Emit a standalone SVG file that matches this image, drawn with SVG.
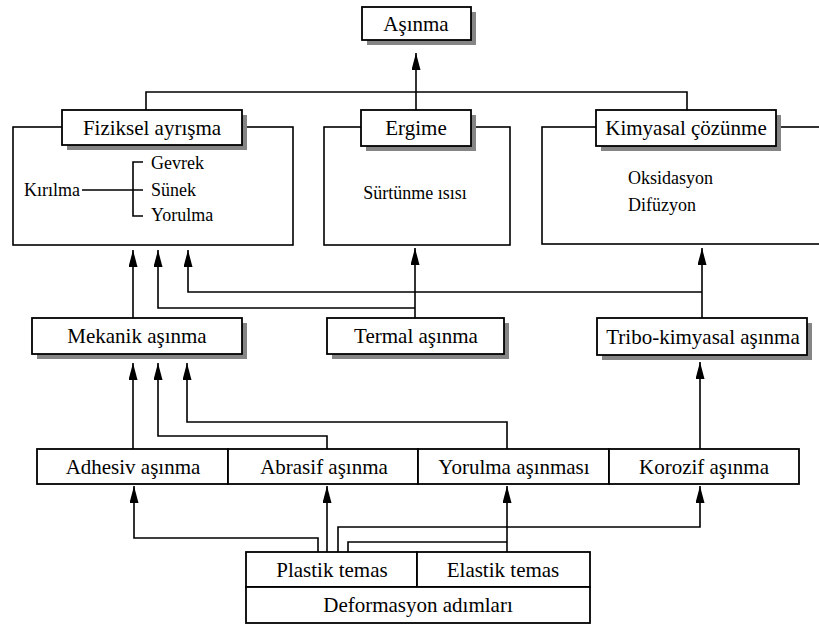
<svg xmlns="http://www.w3.org/2000/svg" width="819" height="630" viewBox="0 0 819 630">
<defs>
<style>
.ln{fill:none;stroke:#000;stroke-width:1.6}
.bx{fill:#fff;stroke:#000;stroke-width:1.8}
.fr{fill:#fff;stroke:#000;stroke-width:1.6}
.sh{fill:#858585}
.t{font-size:21px;fill:#000;text-anchor:middle}
.s{font-size:18px;fill:#000}
.a{marker-end:url(#ah)}
</style>
<marker id="ah" markerUnits="userSpaceOnUse" markerWidth="17" markerHeight="9" refX="17" refY="4.5" orient="auto">
<path d="M0,0 L17,4.5 L0,9 Z" fill="#000"/>
</marker>
</defs>
<rect width="819" height="630" fill="#fff"/>

<g id="frame-fiziksel"><rect class="fr" x="13" y="127" width="280" height="118"/></g>
<g id="frame-ergime"><rect class="fr" x="324" y="127" width="186" height="118"/></g>
<g id="frame-kimyasal"><rect class="fr" x="542" y="127" width="290" height="117"/></g>

<g id="connectors">
<path class="ln a" d="M416,110 V53"/>
<path class="ln" d="M146,110 V92 H687 V110"/>
<path class="ln a" d="M133,318 V250"/>
<path class="ln a" d="M415,318 V248"/>
<path class="ln a" d="M415,308 H158 V250"/>
<path class="ln a" d="M702,318 V248"/>
<path class="ln a" d="M702,292 H188 V250"/>
<path class="ln a" d="M133,449 V363"/>
<path class="ln a" d="M327,449 V436 H158 V363"/>
<path class="ln a" d="M507,449 V422 H187 V363"/>
<path class="ln a" d="M700,449 V362"/>
<path class="ln a" d="M318,552 V538 H134 V486"/>
<path class="ln a" d="M327,552 V486"/>
<path class="ln a" d="M507,552 V486"/>
<path class="ln" d="M348,552 V542 H507"/>
<path class="ln a" d="M338,552 V527 H700 V486"/>
</g>

<g font-family="'Liberation Serif', Tinos, 'Times New Roman', 'DejaVu Serif', serif">
<g id="asinma">
<rect class="sh" x="367" y="12" width="109" height="33"/>
<rect class="bx" x="362" y="7" width="109" height="33"/>
<text class="t" x="416" y="31">Aşınma</text>
</g>

<g id="fiziksel-ayrisma">
<rect class="sh" x="67" y="115" width="180" height="35"/>
<rect class="bx" x="62" y="110" width="180" height="35"/>
<text class="t" x="152" y="135">Fiziksel ayrışma</text>
<text class="s" x="24" y="196">Kırılma</text>
<path class="ln" d="M82,190 H143 M143,162 H133 V216 H143"/>
<text class="s" x="151" y="169">Gevrek</text>
<text class="s" x="151" y="196">Sünek</text>
<text class="s" x="151" y="221">Yorulma</text>
</g>

<g id="ergime">
<rect class="sh" x="366" y="115" width="110" height="36"/>
<rect class="bx" x="361" y="110" width="110" height="36"/>
<text class="t" x="416" y="135">Ergime</text>
<text class="s" x="415" y="199" text-anchor="middle">Sürtünme ısısı</text>
</g>

<g id="kimyasal-cozunme">
<rect class="sh" x="601" y="115" width="180" height="36"/>
<rect class="bx" x="596" y="110" width="180" height="36"/>
<text class="t" x="686" y="135">Kimyasal çözünme</text>
<text class="s" x="628" y="184">Oksidasyon</text>
<text class="s" x="628" y="211">Difüzyon</text>
</g>

<g id="mekanik-asinma">
<rect class="sh" x="37" y="323" width="210" height="36"/>
<rect class="bx" x="32" y="318" width="210" height="36"/>
<text class="t" x="137" y="343">Mekanik aşınma</text>
</g>

<g id="termal-asinma">
<rect class="sh" x="332" y="323" width="177" height="36"/>
<rect class="bx" x="327" y="318" width="177" height="36"/>
<text class="t" x="416" y="343">Termal aşınma</text>
</g>

<g id="tribo-kimyasal-asinma">
<rect class="sh" x="602" y="323" width="210" height="37"/>
<rect class="bx" x="597" y="318" width="210" height="37"/>
<text class="t" x="703" y="344">Tribo-kimyasal aşınma</text>
</g>

<g id="adhesiv-asinma">
<rect class="bx" x="37" y="449" width="191" height="35"/>
<text class="t" x="133" y="474">Adhesiv aşınma</text>
</g>
<g id="abrasif-asinma">
<rect class="bx" x="228" y="449" width="190" height="35"/>
<text class="t" x="324" y="474">Abrasif aşınma</text>
</g>
<g id="yorulma-asinmasi">
<rect class="bx" x="418" y="449" width="191" height="35"/>
<text class="t" x="514" y="474">Yorulma aşınması</text>
</g>
<g id="korozif-asinma">
<rect class="bx" x="609" y="449" width="190" height="35"/>
<text class="t" x="704" y="474">Korozif aşınma</text>
</g>

<g id="plastik-temas">
<rect class="bx" x="246" y="552" width="171" height="35"/>
<text class="t" x="332" y="577">Plastik temas</text>
</g>
<g id="elastik-temas">
<rect class="bx" x="417" y="552" width="173" height="35"/>
<text class="t" x="503" y="577">Elastik temas</text>
</g>
<g id="deformasyon-adimlari">
<rect class="bx" x="246" y="587" width="344" height="36"/>
<text class="t" x="418" y="612">Deformasyon adımları</text>
</g>
</g>
</svg>
